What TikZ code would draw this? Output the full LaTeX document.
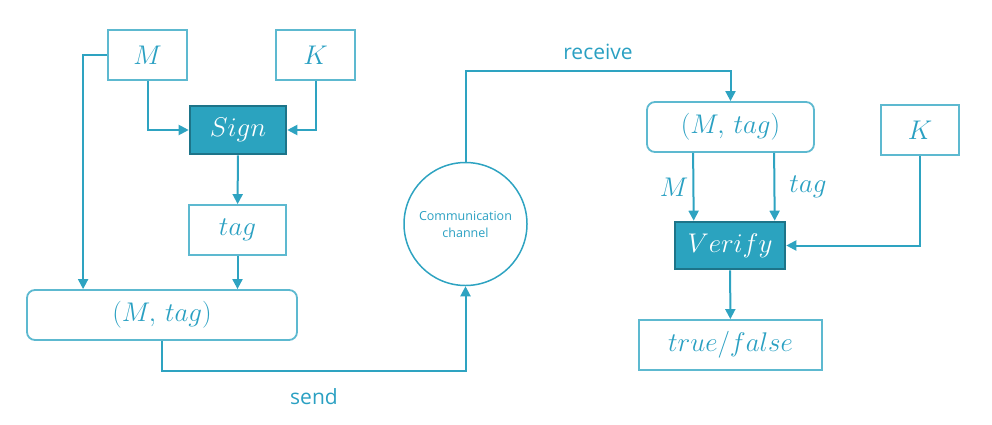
\RequirePackage{fix-cm}
\documentclass[tikz,border=0pt]{standalone}
\usepackage{fontspec}
\setsansfont{Open Sans}
\usetikzlibrary{arrows.meta}
\definecolor{ln}{HTML}{2EA3C1}
\definecolor{bd}{HTML}{5DB9D0}
\definecolor{tx}{HTML}{2AA0C2}
\definecolor{sf}{HTML}{2BA3BF}
\definecolor{sb}{HTML}{1D7489}
\tikzset{
  mathfont/.style={font=\fontsize{27}{31}\selectfont},
  plainbox/.style={draw=bd, line width=1.8pt, text=tx, inner sep=0pt, mathfont},
  roundbox/.style={plainbox, rounded corners=8pt},
  opbox/.style={draw=sb, fill=sf, line width=2.6pt, text=white, inner sep=0pt, mathfont},
  chan/.style={circle, draw=ln, line width=1.5pt, text=tx, inner sep=0pt, align=center,
               font=\sffamily\fontsize{12.5}{17}\selectfont},
  arr/.style={draw=ln, line width=2pt, -{Triangle[length=10pt,width=10pt]}},
  lbl/.style={text=tx, font=\sffamily\fontsize{21}{24}\selectfont},
  mlbl/.style={text=tx, mathfont}
}
\begin{document}
\begin{tikzpicture}[x=1pt,y=-1pt]
\useasboundingbox (0,0) rectangle (992,424);
\node[plainbox, minimum width=79pt, minimum height=50pt] (M) at (147.5,55) {$M$};
\node[plainbox, minimum width=79pt, minimum height=50pt] (K1) at (315.5,55) {$K$};
\node[opbox, minimum width=96pt, minimum height=48pt] (Sign) at (238,130) {$Sign$};
\node[plainbox, minimum width=97pt, minimum height=50pt] (tag) at (237.5,230) {$tag$};
\node[roundbox, minimum width=270pt, minimum height=50pt] (MT1) at (162,315) {$(M,\,tag)$};
\node[chan, minimum size=123pt] (ch) at (465.5,224) {Communication\\channel};
\node[roundbox, minimum width=167pt, minimum height=50pt] (MT2) at (730.5,127) {$(M,\,tag)$};
\node[opbox, minimum width=110pt, minimum height=47pt] (Verify) at (730,245.5) {$Verify$};
\node[plainbox, minimum width=78pt, minimum height=50pt] (K2) at (920,130) {$K$};
\node[plainbox, minimum width=183pt, minimum height=50pt] (TF) at (730.5,345) {$true/false$};

\draw[arr] (M.south) |- (Sign.west);
\draw[arr] (K1.south) |- (Sign.east);
\draw[arr] (Sign) -- (tag);
\draw[arr] (M.west) -| ([xshift=57pt]MT1.north west);
\draw[arr] (tag) -- (tag.south |- MT1.north);
\draw[arr] (MT1.south) -- ++(0,30) -| (ch.south);
\draw[arr] (ch.north) -- ++(0,-90.5) -| (MT2.north);
\draw[arr] ([xshift=47pt]MT2.south west) -- ([xshift=20pt]Verify.north west);
\draw[arr] ([xshift=128pt]MT2.south west) -- ([xshift=101pt]Verify.north west);
\draw[arr] (K2.south) |- (Verify.east);
\draw[arr] (Verify) -- (TF);

\node[lbl] (send) at (314,397) {send};
\node[lbl] (recv) at (598,52) {receive};
\node[mlbl] (ml) at (674,187) {$M$};
\node[mlbl] (tl) at (808,187) {$tag$};
\end{tikzpicture}
\end{document}
